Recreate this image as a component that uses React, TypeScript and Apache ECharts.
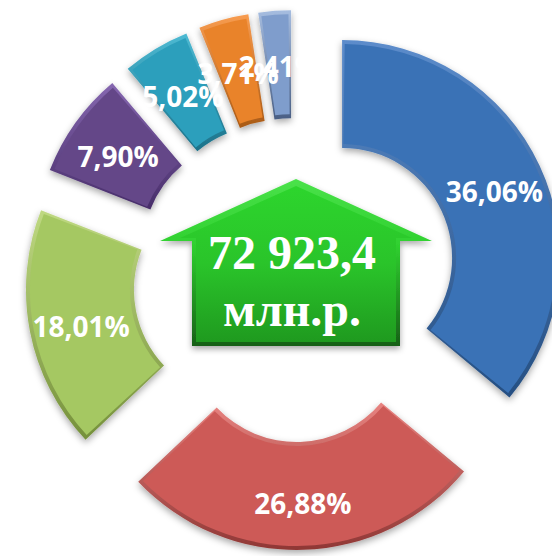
import React, { useEffect, useRef } from "react";
import * as echarts from "echarts";

const categories = ["A", "B", "C", "D", "E", "F", "G"];
const shares = [36.06, 26.88, 18.01, 7.9, 5.02, 3.71, 2.41];
const labels = ["36,06%", "26,88%", "18,01%", "7,90%", "5,02%", "3,71%", "2,41%"];
const faceColors = ["#3a72b6", "#cd5a57", "#a5c862", "#644788", "#2c9fbc", "#e9832a", "#7f9dcc"];
const lightColors = ["#5c8ccb", "#e88380", "#bfd982", "#8667b0", "#4dbad3", "#f89c50", "#a6bde0"];
const darkColors = ["#264f82", "#8f3735", "#75903b", "#472d69", "#1b7189", "#a95a16", "#4a5f84"];
const totalText = "72 923,4";
const unitText = "млн.р.";

const base = {
  type: "pie",
  center: [295, 280],
  startAngle: 90,
  clockwise: true,
  sort: null,
  selectedMode: "multiple",
  selectedOffset: 52,
  silent: true,
  labelLine: { show: false },
};

export default function App() {
  const ref = useRef<HTMLDivElement>(null);
  useEffect(() => {
    document.body.style.margin = "0";
    const chart = echarts.init(ref.current!, null, { renderer: "svg" });
    chart.setOption({
      animation: false,
      backgroundColor: "#ffffff",
      series: [
        {
          ...base,
          radius: [110, 218],
          z: 1,
          label: { show: false },
          data: shares.map((v, i) => ({
            name: categories[i],
            value: v,
            selected: true,
            itemStyle: {
              color: {
                type: "linear", x: 0, y: 0, x2: 0, y2: 1,
                colorStops: [
                  { offset: 0, color: lightColors[i] },
                  { offset: 1, color: darkColors[i] },
                ],
              },
              shadowBlur: 7,
              shadowOffsetY: 3,
              shadowColor: "rgba(0,0,0,0.35)",
            },
          })),
        },
        {
          ...base,
          radius: [114, 214],
          padAngle: 1.4,
          z: 2,
          label: { show: false },
          data: shares.map((v, i) => ({
            name: categories[i],
            value: v,
            selected: true,
            itemStyle: { color: faceColors[i] },
          })),
        },
        {
          ...base,
          center: [296, 284],
          radius: [114, 214],
          z: 3,
          itemStyle: { color: "transparent" },
          label: {
            show: true,
            position: "inside",
            color: "#ffffff",
            fontFamily: "Open Sans",
            fontWeight: "bold",
            fontSize: 28,
            formatter: (p: any) => labels[p.dataIndex],
          },
          labelLayout: { hideOverlap: false },
          data: shares.map((v, i) => ({
            name: categories[i],
            value: v,
            selected: true,
          })),
        },
      ],
      graphic: [
        {
          type: "polygon",
          z: 10,
          shape: { points: [[296, 179], [432, 241], [400, 241], [400, 346], [192, 346], [192, 241], [160, 241]] },
          style: {
            fill: {
              type: "linear", x: 0, y: 0, x2: 0, y2: 1,
              colorStops: [
                { offset: 0, color: "#4ae24a" },
                { offset: 0.4, color: "#2fd02f" },
                { offset: 1, color: "#175f17" },
              ],
            },
            shadowBlur: 6,
            shadowOffsetY: 3,
            shadowColor: "rgba(0,0,0,0.35)",
          },
        },
        {
          type: "polygon",
          z: 11,
          shape: { points: [[296, 186], [412, 238], [396, 238], [396, 342], [196, 342], [196, 238], [180, 238]] },
          style: {
            fill: {
              type: "linear", x: 0, y: 0, x2: 0, y2: 1,
              colorStops: [
                { offset: 0, color: "#2dd52d" },
                { offset: 0.5, color: "#2ac42a" },
                { offset: 1, color: "#1f9a1f" },
              ],
            },
          },
        },
        {
          type: "text", z: 12, x: 292, y: 252,
          style: { text: totalText, fill: "#fff", font: "bold 48px 'Liberation Serif'", align: "center", verticalAlign: "middle" },
        },
        {
          type: "text", z: 12, x: 292, y: 309,
          style: { text: unitText, fill: "#fff", font: "bold 48px 'Liberation Serif'", align: "center", verticalAlign: "middle" },
        },
      ],
    });
    return () => chart.dispose();
  }, []);
  return <div ref={ref} style={{ width: 552, height: 556 }} />;
}
